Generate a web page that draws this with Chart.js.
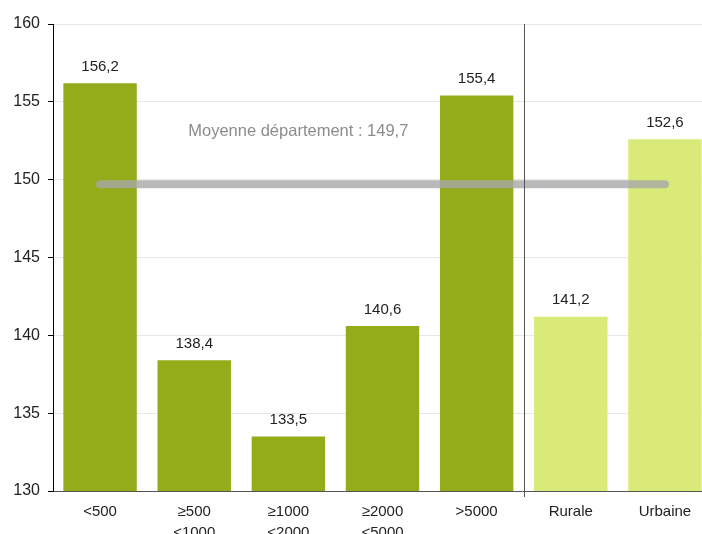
<!DOCTYPE html>
<html>
<head>
<meta charset="utf-8">
<script src="https://cdn.jsdelivr.net/npm/chart.js@4/dist/chart.umd.min.js"></script>
<style>
  html, body { margin: 0; padding: 0; background: #fff; overflow: hidden; }
  #wrap { width: 712px; height: 553px; }
</style>
</head>
<body>
<div id="wrap"><canvas id="chart"></canvas></div>
<script>
// Categories and values
const categories = [['<500'], ['≥500', '<1000'], ['≥1000', '<2000'], ['≥2000', '<5000'], ['>5000'], ['Rurale'], ['Urbaine']];
const values = [156.2, 138.4, 133.5, 140.6, 155.4, 141.2, 152.6];
const barColors = ['#94ab1a', '#94ab1a', '#94ab1a', '#94ab1a', '#94ab1a', '#d9ea78', '#d9ea78'];
const meanValue = 149.7;
const meanLabel = 'Moyenne département : 149,7';
const yTicks = [130, 135, 140, 145, 150, 155, 160];

const FONT = '"Liberation Sans", Arial, sans-serif';
const fmt = v => v.toFixed(1).replace('.', ',');

// value labels, separator and mean caption
const extras = {
    id: 'extras',
    afterDatasetsDraw(chart) {
        const ctx = chart.ctx;
        const x = chart.scales.x;
        const y = chart.scales.y;
        const meta = chart.getDatasetMeta(1);

        ctx.save();
        ctx.font = '15px ' + FONT;
        ctx.fillStyle = '#222';
        ctx.textAlign = 'center';
        ctx.textBaseline = 'bottom';
        meta.data.forEach((bar, i) => {
            ctx.fillText(fmt(values[i]), bar.x, bar.y - 9);
        });

        // separator between size classes and rural/urban
        const sx = Math.round((x.getPixelForValue(4) + x.getPixelForValue(5)) / 2) + 0.5;
        ctx.strokeStyle = '#555';
        ctx.lineWidth = 1;
        ctx.beginPath();
        ctx.moveTo(sx, chart.chartArea.top);
        ctx.lineTo(sx, chart.chartArea.bottom + 6);
        ctx.stroke();

        // mean caption
        ctx.font = '16.5px ' + FONT;
        ctx.fillStyle = '#8c8c8c';
        ctx.textAlign = 'left';
        ctx.textBaseline = 'middle';
        ctx.fillText(meanLabel, x.getPixelForValue(1) - 6, y.getPixelForValue(153.1));
        ctx.restore();
    }
};

new Chart(document.getElementById('chart'), {
    type: 'bar',
    data: {
        labels: categories,
        datasets: [{
            type: 'line',
            data: values.map(() => meanValue),
            borderColor: 'rgba(168, 168, 168, 0.8)',
            borderWidth: 8,
            borderCapStyle: 'round',
            pointRadius: 0,
            order: 0
        }, {
            data: values,
            backgroundColor: barColors,
            barPercentage: 0.78,
            categoryPercentage: 1,
            order: 1
        }]
    },
    options: {
        responsive: true,
        maintainAspectRatio: false,
        animation: false,
        layout: { padding: { top: 24, right: 0, bottom: 0, left: 0 } },
        plugins: {
            legend: { display: false },
            tooltip: { enabled: false }
        },
        scales: {
            x: {
                grid: { display: false, drawTicks: false },
                border: { color: '#555' },
                ticks: {
                    color: '#222',
                    padding: 10,
                    maxRotation: 0,
                    font: { size: 15, family: FONT, lineHeight: 1.4 }
                }
            },
            y: {
                min: 130,
                max: 160,
                afterBuildTicks: scale => { scale.ticks = yTicks.map(v => ({ value: v })); },
                afterFit: scale => { scale.width = 53; },
                grid: { color: '#e8e8e8', tickColor: '#000', tickLength: 5 },
                border: { color: '#000' },
                ticks: {
                    color: '#222',
                    padding: 8,
                    font: { size: 16, family: FONT }
                }
            }
        }
    },
    plugins: [extras]
});
</script>
</body>
</html>
